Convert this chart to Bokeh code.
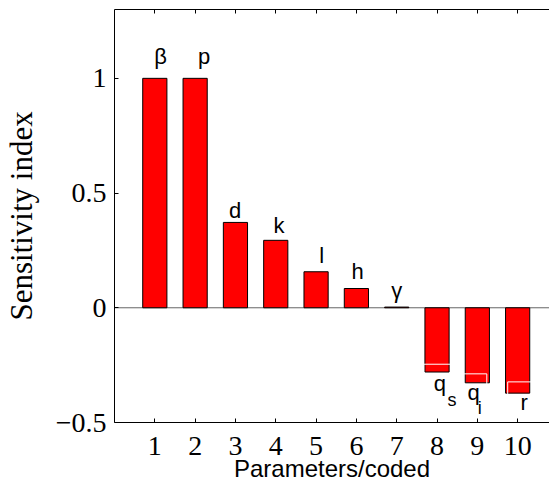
from bokeh.plotting import figure
from bokeh.models import LinearAxis, FixedTicker, Span, Range1d
from bokeh.core.properties import value
from bokeh.embed import file_html
from bokeh.resources import INLINE

# ---- data ----
param_codes = [1, 2, 3, 4, 5, 6, 7, 8, 9, 10]
sensitivity = [1.0, 1.0, 0.372, 0.294, 0.157, 0.084, 0.003, -0.28, -0.327, -0.372]
param_names = ["β", "p", "d", "k", "l", "h", "γ", "q", "q", "r"]
sub_names = ["s", "i"]
y_ticks = [-0.5, 0, 0.5, 1]
y_tick_labels = ["−0.5", "0", "0.5", "1"]

# annotation placement (data units)
name_x = [1.14, 2.22, 2.99, 4.08, 5.14, 6.03, 7.0, 8.07, 8.91, 10.16]
name_y = [1.094, 1.094, 0.425, 0.358, 0.226, 0.157, 0.076, -0.332, -0.371, -0.415]
sub_x = [8.37, 9.06]
sub_y = [-0.400, -0.435]
box_left = [7.67, 8.54, 9.753]
box_right = [8.62, 9.235, 10.39]
box_top = [-0.246, -0.288, -0.323]
box_bottom = [-0.46, -0.46, -0.46]

p = figure(width=549, height=490, output_backend="svg", toolbar_location=None,
           x_range=Range1d(0, 10.79), y_range=Range1d(-0.5, 1.3),
           min_border_left=112, min_border_right=0, min_border_top=9,
           min_border_bottom=68)
p.outline_line_color = None
p.grid.visible = False
p.background_fill_color = "white"
p.border_fill_color = "white"

serif = "Liberation Serif"
sans = "Liberation Sans"

xa = p.xaxis[0]
xa.ticker = FixedTicker(ticks=param_codes)
xa.major_label_text_font = serif
xa.major_label_text_font_size = "28px"
xa.major_label_text_color = "black"
xa.major_label_standoff = 14
xa.major_tick_in = 4
xa.major_tick_out = 0
xa.minor_tick_in = 0
xa.minor_tick_out = 0
xa.axis_line_color = "black"
xa.major_tick_line_color = "black"
xa.axis_label = "Parameters/coded"
xa.axis_label_text_font = sans
xa.axis_label_text_font_style = "normal"
xa.axis_label_text_font_size = "24px"
xa.axis_label_text_color = "black"
xa.axis_label_standoff = -3

ya = p.yaxis[0]
ya.ticker = FixedTicker(ticks=y_ticks)
ya.major_label_overrides = {t: s for t, s in zip(y_ticks, y_tick_labels)}
ya.major_label_text_font = serif
ya.major_label_text_font_size = "28px"
ya.major_label_text_color = "black"
ya.major_label_standoff = 8
ya.major_tick_in = 4
ya.major_tick_out = 0
ya.minor_tick_in = 0
ya.minor_tick_out = 0
ya.axis_line_color = "black"
ya.major_tick_line_color = "black"
ya.axis_label = "Sensitivity index"
ya.axis_label_text_font = serif
ya.axis_label_text_font_style = "normal"
ya.axis_label_text_font_size = "31px"
ya.axis_label_text_color = "black"
ya.axis_label_standoff = 14

top = LinearAxis(ticker=FixedTicker(ticks=param_codes),
                 major_label_overrides={c: "" for c in param_codes},
                 major_label_text_font_size="0px", major_label_standoff=0,
                 major_tick_in=4, major_tick_out=0, minor_tick_in=0, minor_tick_out=0,
                 axis_line_color="black", major_tick_line_color="black")
p.add_layout(top, "above")

p.add_layout(Span(location=0, dimension="width", line_color="#666666",
                  line_width=1, level="underlay"))

p.vbar(x=param_codes, top=sensitivity, bottom=0, width=0.6,
       fill_color="#ff0000", line_color="black", line_width=1)

p.quad(left=box_left, right=box_right, top=box_top, bottom=box_bottom,
       fill_color=None, line_color="white", line_width=1)

p.text(x=name_x, y=name_y, text=param_names, text_align="center",
       text_baseline="alphabetic", text_font=value(sans), text_font_size="22px",
       text_color="black")
p.text(x=sub_x, y=sub_y, text=sub_names, text_align="center",
       text_baseline="alphabetic", text_font=value(sans), text_font_size="18px",
       text_color="black")

open("out.html", "w").write(file_html(p, INLINE))
